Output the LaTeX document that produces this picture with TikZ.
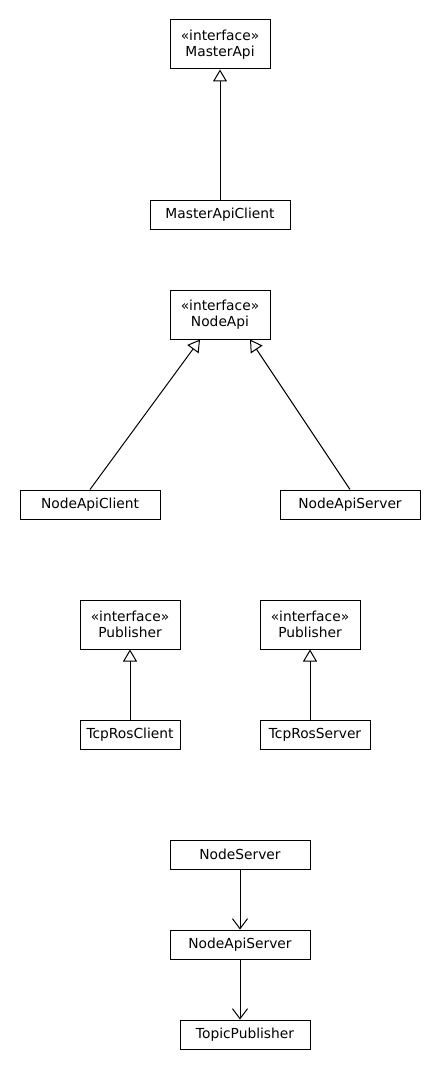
\documentclass[tikz,border=0pt]{standalone}
\usepackage{fontspec}
\setmainfont{DejaVu Sans}
\usetikzlibrary{arrows.meta}
\tikzset{
  cls/.style={draw=black, line width=1pt, fill=white, inner sep=0pt, minimum height=29pt, align=center, font=\fontsize{13.8}{16}\selectfont},
  iface/.style={cls, minimum height=49pt},
  real/.style={draw=black, line width=1pt, -{Triangle[open, length=12pt, width=14pt]}},
  dep/.style={draw=black, line width=1pt, -{Straight Barb[length=10pt, width=15pt]}},
}
\begin{document}
\begin{tikzpicture}[x=1pt, y=-1pt]
\useasboundingbox[fill=white] (0,0) rectangle (440,1070);
\node[iface, minimum width=100pt] (ma) at (220,44.5) {«interface»\\MasterApi};
\node[cls, minimum width=140pt] (mac) at (220,214.5) {MasterApiClient};
\node[iface, minimum width=100pt] (na) at (220,314.5) {«interface»\\NodeApi};
\node[cls, minimum width=140pt] (nac) at (90,504.5) {NodeApiClient};
\node[cls, minimum width=140pt] (nas) at (350,504.5) {NodeApiServer};
\node[iface, minimum width=100pt] (p1) at (130,624.5) {«interface»\\Publisher};
\node[cls, minimum width=100pt] (trc) at (130,734.5) {TcpRosClient};
\node[iface, minimum width=100pt] (p2) at (310,624.5) {«interface»\\Publisher};
\node[cls, minimum width=110pt] (trs) at (315,734.5) {TcpRosServer};
\node[cls, minimum width=140pt] (ns) at (240,854.5) {NodeServer};
\node[cls, minimum width=140pt] (nas2) at (240,944.5) {NodeApiServer};
\node[cls, minimum width=130pt] (tp) at (245,1034.5) {TopicPublisher};
\draw[real] (mac.north) -- (ma.south);
\draw[real] (nac.north) -- ([xshift=-20pt]na.south);
\draw[real] (nas.north) -- ([xshift=30pt]na.south);
\draw[real] (trc.north) -- (p1.south);
\draw[real] ([xshift=-5pt]trs.north) -- (p2.south);
\draw[dep] (ns.south) -- (nas2.north);
\draw[dep] (nas2.south) -- ([xshift=-5pt]tp.north);
\end{tikzpicture}
\end{document}
